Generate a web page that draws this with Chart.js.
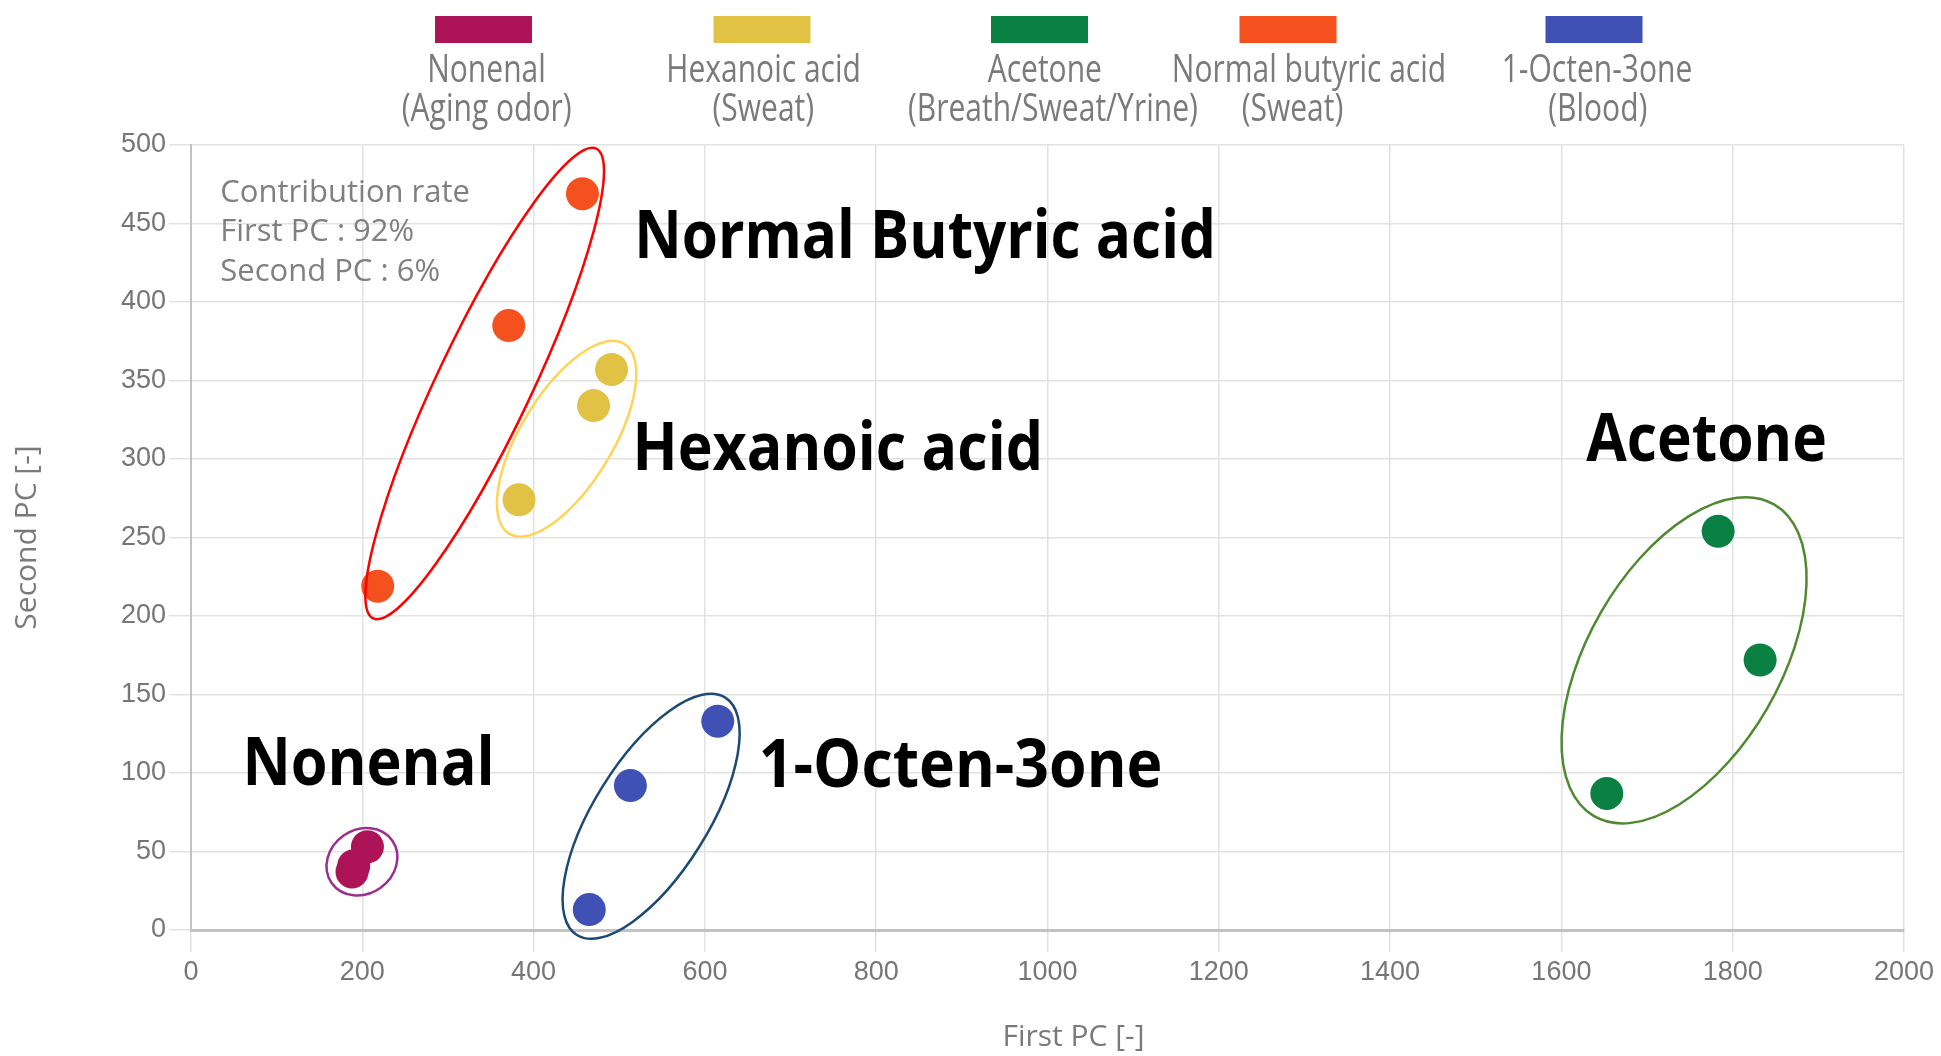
<!DOCTYPE html>
<html>
<head>
<meta charset="utf-8">
<script src="https://cdn.jsdelivr.net/npm/chart.js@4/dist/chart.umd.min.js"></script>
<style>
  html, body { margin: 0; padding: 0; background: #ffffff; }
  #wrap { width: 1941px; height: 1056px; position: relative; }
</style>
</head>
<body>
<div id="wrap"><canvas id="c" width="1941" height="1056"></canvas></div>
<script>
// ---------------- DATA ----------------
const categories = ['Nonenal', 'Hexanoic acid', 'Acetone', 'Normal butyric acid', '1-Octen-3one'];
const categorySources = ['(Aging odor)', '(Sweat)', '(Breath/Sweat/Yrine)', '(Sweat)', '(Blood)'];

const nonenalX  = [206, 190, 188];
const nonenalY  = [53, 41, 37];
const hexanoicX = [491, 470, 383];
const hexanoicY = [357, 334, 274];
const acetoneX  = [1783, 1832, 1653];
const acetoneY  = [254, 172, 87];
const butyricX  = [457, 371, 218];
const butyricY  = [469, 385, 219];
const octenX    = [615, 513, 465];
const octenY    = [133, 92, 13];

const xTickValues = [0, 200, 400, 600, 800, 1000, 1200, 1400, 1600, 1800, 2000];
const yTickValues = [0, 50, 100, 150, 200, 250, 300, 350, 400, 450, 500];

const xAxisTitle = 'First PC [-]';
const yAxisTitle = 'Second PC [-]';
const contributionLines = ['Contribution rate', 'First PC : 92%', 'Second PC : 6%'];
const groupLabels = ['Nonenal', 'Hexanoic acid', 'Acetone', 'Normal Butyric acid', '1-Octen-3one'];

// ---------------- STYLE ----------------
const seriesColors = ['#AD1457', '#E2C244', '#0B8043', '#F4511E', '#3F51B5'];
const greyText = '#7a7a7a';

// group label anchors (data coords, left/baseline) and horizontal scale
const groupLabelAnchors = [
  {x: 60, y: 92.4, sx: 0.9},
  {x: 515.5, y: 293, sx: 0.895},
  {x: 1629, y: 298.7, sx: 0.89},
  {x: 517.5, y: 428, sx: 0.885},
  {x: 663, y: 91.1, sx: 0.92}
];
// ellipses (centre in data coords, semi axes in px, angle in deg)
const ellipseSpecs = [
  {x: 199.6, y: 43.5,  a: 37,  b: 32, angle: 35,   color: '#9b2f8f'},
  {x: 438.5, y: 312.9, a: 111, b: 46, angle: 58.8, color: '#ffd35a'},
  {x: 1743.2, y: 171.8, a: 180, b: 96, angle: 60,  color: '#4f8a30'},
  {x: 342.9, y: 348.1, a: 260, b: 47, angle: 64.6, color: '#ff0000'},
  {x: 537.2, y: 72.4,  a: 140, b: 57, angle: 58,   color: '#1c4a74'}
];
const contributionAnchor = {x: 34.2, y: 463.9};

// legend layout (pixels)
const legendBoxCenters = [483.5, 762, 1039.5, 1288, 1594];
const legendLine1Centers = [486.5, 763.6, 1044.8, 1309, 1597];
const legendLine2Centers = [486.7, 763.3, 1052.9, 1292.5, 1597.8];

// ---------------- BUILD ----------------
const seriesXs = [nonenalX, hexanoicX, acetoneX, butyricX, octenX];
const seriesYs = [nonenalY, hexanoicY, acetoneY, butyricY, octenY];

const datasets = categories.map((name, i) => ({
  label: name,
  data: seriesXs[i].map((x, j) => ({x: x, y: seriesYs[i][j]})),
  backgroundColor: seriesColors[i],
  borderColor: seriesColors[i],
  borderWidth: 0,
  pointRadius: 16.5,
  pointHoverRadius: 16.5
}));

function drawScaledText(ctx, text, x, y, font, color, sx, align, baseline) {
  ctx.save();
  ctx.font = font;
  ctx.fillStyle = color;
  ctx.textBaseline = baseline || 'alphabetic';
  ctx.textAlign = align;
  ctx.translate(x, y);
  ctx.scale(sx, 1);
  ctx.fillText(text, 0, 0);
  ctx.restore();
}

const annotationPlugin = {
  id: 'pcaAnnotations',
  afterDatasetsDraw(chart) {
    const ctx = chart.ctx;
    const xs = chart.scales.x, ys = chart.scales.y;
    // ellipses
    ellipseSpecs.forEach(e => {
      ctx.save();
      ctx.beginPath();
      ctx.ellipse(xs.getPixelForValue(e.x), ys.getPixelForValue(e.y), e.a, e.b, -e.angle * Math.PI / 180, 0, Math.PI * 2);
      ctx.strokeStyle = e.color;
      ctx.lineWidth = 2.5;
      ctx.stroke();
      ctx.restore();
    });
    // group labels
    groupLabels.forEach((t, i) => {
      const p = groupLabelAnchors[i];
      drawScaledText(ctx, t, xs.getPixelForValue(p.x), ys.getPixelForValue(p.y),
        '700 66px "Open Sans"', '#000000', p.sx, 'left');
    });
    // contribution text
    const cx = xs.getPixelForValue(contributionAnchor.x);
    const cy = ys.getPixelForValue(contributionAnchor.y);
    contributionLines.forEach((t, i) => {
      drawScaledText(ctx, t, cx, cy + i * 39.5, '400 31px "Open Sans"', '#808080', 1, 'left');
    });
  },
  afterDraw(chart) {
    const ctx = chart.ctx;
    // legend
    chart.data.datasets.forEach((ds, i) => {
      ctx.save();
      ctx.fillStyle = ds.backgroundColor;
      ctx.fillRect(legendBoxCenters[i] - 48.5, 16, 97, 27);
      ctx.restore();
      drawScaledText(ctx, ds.label, legendLine1Centers[i], 82, '400 39px "Open Sans"', greyText, 0.77, 'center');
      drawScaledText(ctx, categorySources[i], legendLine2Centers[i], 121, '400 39px "Open Sans"', greyText, 0.77, 'center');
    });
    // x axis title (offset right of the axis centre as in the reference)
    const ca = chart.chartArea;
    drawScaledText(ctx, xAxisTitle, (ca.left + ca.right) / 2 + 26, 1037, '400 30px "Open Sans"', greyText, 1, 'center', 'middle');
  }
};

function build() {
  new Chart(document.getElementById('c'), {
    type: 'scatter',
    data: { datasets: datasets },
    plugins: [annotationPlugin],
    options: {
      responsive: false,
      devicePixelRatio: 1,
      animation: false,
      events: [],
      layout: { padding: { top: 145, right: 37, bottom: 0, left: 0 } },
      plugins: { legend: { display: false }, tooltip: { enabled: false } },
      scales: {
        x: {
          type: 'linear',
          min: xTickValues[0],
          max: xTickValues[xTickValues.length - 1],
          afterBuildTicks: (s) => { s.ticks = xTickValues.map(v => ({value: v})); },
          afterFit: (s) => { s.height = 126; },
          ticks: { color: '#767676', font: { family: '"Liberation Sans", Arial', size: 27 }, padding: 4, maxRotation: 0,
                   callback: (v) => String(v) },
          grid: { color: '#e2e2e2', lineWidth: 1.5, tickLength: 22 },
          border: { color: '#c2c2c2', width: 3 },
          title: { display: false, text: xAxisTitle }
        },
        y: {
          type: 'linear',
          min: yTickValues[0],
          max: yTickValues[yTickValues.length - 1],
          afterBuildTicks: (s) => { s.ticks = yTickValues.map(v => ({value: v})); },
          afterFit: (s) => { s.width = 191; },
          ticks: { color: '#767676', font: { family: '"Liberation Sans", Arial', size: 27 }, padding: 3,
                   callback: (v) => String(v) },
          grid: { color: '#e2e2e2', lineWidth: 1.5, tickLength: 22 },
          border: { color: '#c2c2c2', width: 2 },
          title: { display: true, text: yAxisTitle, color: greyText, font: { family: '"Open Sans"', size: 30 }, padding: { top: 9, bottom: 0 } }
        }
      }
    }
  });
}

Promise.all([
  document.fonts.load('700 66px "Open Sans"'),
  document.fonts.load('400 31px "Open Sans"'),
  document.fonts.load('27px "Liberation Sans"')
]).then(build, build);
</script>
</body>
</html>
